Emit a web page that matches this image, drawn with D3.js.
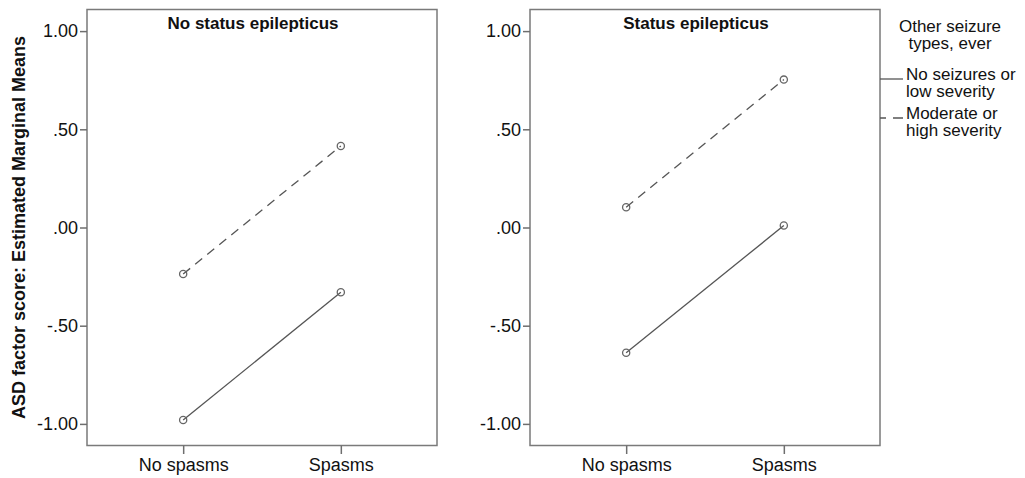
<!DOCTYPE html>
<html>
<head>
<meta charset="utf-8">
<script src="https://cdn.jsdelivr.net/npm/d3@7"></script>
<style>
  body { margin: 0; background: #fff; }
  text { font-family: "Liberation Sans", Arial, sans-serif; fill: #111; }
  .axis path { display: none; }
  .axis line { stroke: #6e6e6e; stroke-width: 1.5; }
  .axis text { font-size: 18px; fill: #111; }
  .frame { fill: none; stroke: #7a7a7a; stroke-width: 1.5; }
  .title { font-size: 17px; font-weight: bold; }
  .ylabel { font-size: 18px; font-weight: bold; }
  .legend text { font-size: 17px; }
</style>
</head>
<body>
<div id="chart"></div>
<script>
const WIDTH = 1025, HEIGHT = 478;

// data
const categories = ["No spasms", "Spasms"];
const panelTitles = ["No status epilepticus", "Status epilepticus"];
const lowSeverity  = [[-0.98, -0.33], [-0.638, 0.01]];   // solid
const highSeverity = [[-0.237, 0.415], [0.103, 0.753]];  // dashed
const yTicks = [1, 0.5, 0, -0.5, -1];
const legendTitle = ["Other seizure", "types, ever"];
const seriesLabels = [["No seizures or", "low severity"], ["Moderate or", "high severity"]];

const panelLeft = [87, 530], panelW = 350;
const plotTop = 9.5, plotBottom = 445.5;

const svg = d3.select("#chart").append("svg")
  .attr("width", WIDTH).attr("height", HEIGHT);

const y = d3.scaleLinear().domain([-1.11, 1.11]).range([plotBottom, plotTop]);
const x = d3.scalePoint().domain(categories).range([0, panelW]).padding(0.61);

// SPSS style ".50", "-1.00" (plain hyphen)
const fmt = v => (v < 0 ? "-" : "") + Math.abs(v).toFixed(2).replace(/^0\./, ".");

const series = [
  { vals: lowSeverity, dash: null },
  { vals: highSeverity, dash: "9,6.5" }
];

panelTitles.forEach((title, p) => {
  const g = svg.append("g").attr("transform", `translate(${panelLeft[p]},0)`);

  g.append("rect").attr("class", "frame")
    .attr("x", 0).attr("y", plotTop)
    .attr("width", panelW).attr("height", plotBottom - plotTop);

  g.append("g").attr("class", "axis")
    .call(d3.axisLeft(y).tickValues(yTicks).tickFormat(fmt).tickSize(7).tickPadding(2));

  g.append("g").attr("class", "axis")
    .attr("transform", `translate(0,${plotBottom})`)
    .call(d3.axisBottom(x).tickSize(8.5).tickPadding(4));

  g.append("text").attr("class", "title")
    .attr("x", panelW / 2 - 9).attr("y", 28.5)
    .attr("text-anchor", "middle")
    .text(title);

  series.forEach(s => {
    const pts = categories.map((c, i) => [x(c), y(s.vals[p][i])]);
    g.append("path")
      .attr("d", d3.line()(pts))
      .attr("fill", "none")
      .attr("stroke", "#555")
      .attr("stroke-width", 1.3)
      .attr("stroke-dasharray", s.dash);
    g.selectAll(null).data(pts).join("circle")
      .attr("cx", d => d[0]).attr("cy", d => d[1]).attr("r", 3.6)
      .attr("fill", "none").attr("stroke", "#666").attr("stroke-width", 1.3);
  });
});

// y axis label
svg.append("text").attr("class", "ylabel")
  .attr("transform", `translate(25, ${(33 + 422) / 2}) rotate(-90)`)
  .attr("text-anchor", "middle")
  .text("ASD factor score: Estimated Marginal Means");

// legend
const lg = svg.append("g").attr("class", "legend");
legendTitle.forEach((t, i) => {
  lg.append("text").attr("x", 950).attr("y", 32 + i * 17)
    .attr("text-anchor", "middle").text(t);
});
const legendY = [79, 118];
seriesLabels.forEach((lines, i) => {
  lg.append("line")
    .attr("x1", 880).attr("x2", 903)
    .attr("y1", legendY[i]).attr("y2", legendY[i])
    .attr("stroke", "#555").attr("stroke-width", 1.3)
    .attr("stroke-dasharray", i ? "6,7,10" : null);
  lines.forEach((t, j) => {
    lg.append("text").attr("x", 906).attr("y", legendY[i] + 1 + j * 17).text(t);
  });
});
</script>
</body>
</html>
